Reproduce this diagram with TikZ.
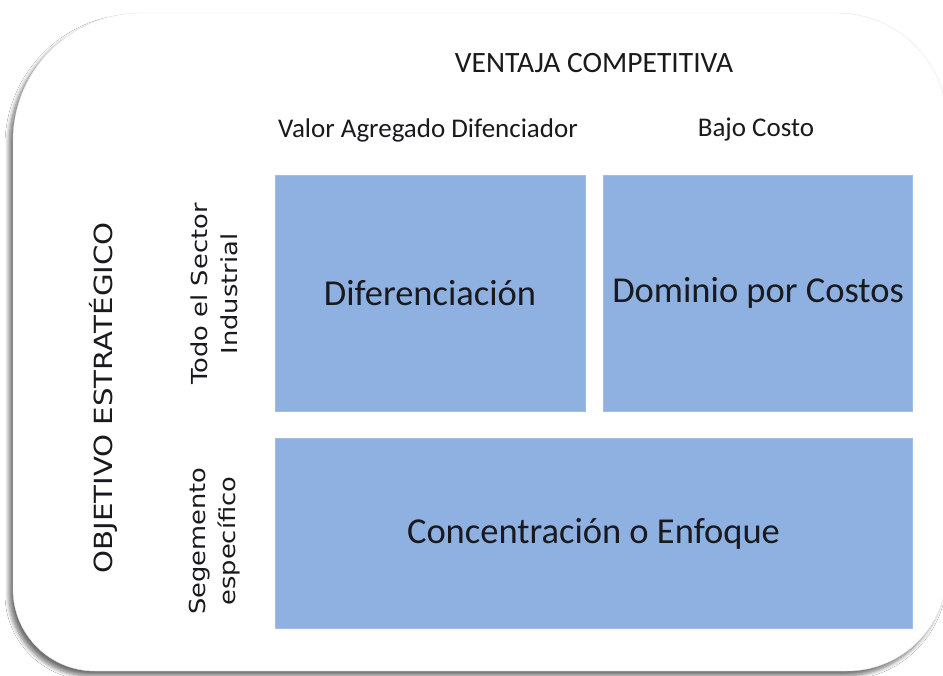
\documentclass[tikz,border=0pt]{standalone}
\usepackage{fontspec}
\setmainfont{Carlito}
\newfontfamily\vfont{DejaVu Sans}
\usetikzlibrary{positioning,shadows.blur}
\definecolor{cellblue}{RGB}{142,177,225}
\definecolor{inktext}{RGB}{25,25,30}

\begin{document}
\begin{tikzpicture}[
x=1pt,y=-1pt,
frame/.style={draw=black!10,fill=white,
  blur shadow={shadow xshift=-4pt,shadow yshift=-5pt,shadow blur steps=8,shadow blur radius=4pt,shadow opacity=55}},
box/.style={rectangle,fill=cellblue,draw=cellblue!85!white,line width=0.6pt,inner sep=0pt,
  font=\fontsize{36.5}{40}\selectfont,text=inktext},
head/.style={font=\fontsize{27}{30}\selectfont,text=inktext,inner sep=0pt},
side/.style={font=\vfont\fontsize{22}{30}\selectfont,text=inktext,align=center,
  rotate=90,xscale=1.17,inner sep=0pt}
]
\useasboundingbox[fill=white] (0,0) rectangle (943,676);
\path[frame] (13,300) [rounded corners=128pt] -- (13,13) [rounded corners=110pt] -- (947,13)
  [rounded corners=100pt] -- (947,671) [rounded corners=82pt] -- (13,671) [sharp corners] -- cycle;

% cells of the matrix
\node[box,minimum width=310pt,minimum height=236pt] (dif) at (430,293) {Diferenciación};
\node[box,minimum width=309pt,minimum height=236pt,right=18pt of dif] (dom) {Dominio por Costos};
\node[box,minimum width=637pt,minimum height=190pt,anchor=north west] (conc) at ([yshift=-27pt]dif.south west) {Concentración o Enfoque};

% column headers
\node[head,font=\fontsize{29.5}{32}\selectfont] (ventaja) at (594,63) {VENTAJA COMPETITIVA};
\node[head] (valor) at (428,130) {Valor Agregado Difenciador};
\node[head] (bajo) at (756,130) {Bajo Costo};

% row headers
\node[side,font=\vfont\fontsize{25}{28}\selectfont] (objetivo) at (103,398) {OBJETIVO ESTRATÉGICO};
\node[side] (todo) at (214,294) {Todo el Sector\\Industrial};
\node[side] (segmento) at (215,541) {Segemento\\específico};
\end{tikzpicture}
\end{document}
